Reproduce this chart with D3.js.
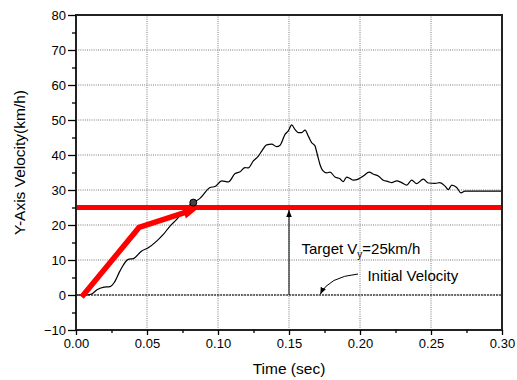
<!DOCTYPE html>
<html><head><meta charset="utf-8">
<script src="https://cdn.jsdelivr.net/npm/d3@7"></script>
<style>body{margin:0;background:#fff}text{font-family:Arial,"Liberation Sans",sans-serif;fill:#000}</style>
</head><body><svg id="c" width="517" height="380"></svg>
<script>
// measured Y-axis velocity trace
const timeVals = [0, 0.0075, 0.011, 0.0148, 0.019, 0.024, 0.0268, 0.031, 0.0368, 0.0404, 0.0463, 0.0509, 0.0568, 0.0615, 0.0662, 0.0709, 0.0756, 0.0791, 0.0826, 0.0873, 0.0944, 0.0979, 0.1026, 0.1073, 0.112, 0.1155, 0.119, 0.1213, 0.1249, 0.1284, 0.1308, 0.1343, 0.1378, 0.1413, 0.1437, 0.1472, 0.1495, 0.1519, 0.1542, 0.1565, 0.1589, 0.1613, 0.1636, 0.166, 0.1683, 0.1699, 0.1718, 0.1737, 0.1765, 0.1789, 0.1824, 0.1859, 0.1882, 0.1906, 0.193, 0.1953, 0.1988, 0.2023, 0.2065, 0.2094, 0.2129, 0.2164, 0.2199, 0.2223, 0.2258, 0.2294, 0.2329, 0.2364, 0.2399, 0.2446, 0.2481, 0.2528, 0.2563, 0.2599, 0.2622, 0.2646, 0.2681, 0.2711, 0.2739, 0.30];
const velVals = [0, 0, 0.3, 1.5, 2.2, 2.4, 3.5, 6.9, 10.2, 10.4, 12.6, 13.5, 15.4, 17.3, 19.7, 21.6, 24, 25.4, 26.4, 27.6, 30.7, 31, 32.6, 32.3, 34.7, 35.2, 36.4, 36.3, 38.3, 39.7, 41.1, 42.9, 43.1, 42.4, 42.8, 45.9, 46.9, 48.6, 47.3, 46.4, 46.4, 47.1, 45.4, 43.5, 42.6, 40.2, 37.3, 35.6, 34.9, 35.1, 33.7, 33.2, 32.4, 33.7, 33.3, 32.8, 33.1, 34, 35.1, 34.5, 34, 32.8, 32.4, 32.1, 32.6, 32.1, 31.4, 32.8, 31.8, 33.1, 32, 31.9, 32.1, 31.1, 30.1, 31.4, 30.7, 29.2, 29.7, 29.7];
const targetV = 25;
const initialV = 0;
const lineT = [0, 0.30];
const planT = [0.004, 0.0444, 0.0861];
const planV = [-0.6, 19.3, 24.8];
const markerT = [0.0826];
const markerV = [26.4];
const arrowT = 0.15;
const xTicks = [0, 0.05, 0.10, 0.15, 0.20, 0.25, 0.30];
const yTicks = [-10, 0, 10, 20, 30, 40, 50, 60, 70, 80];
const xTitle = "Time (sec)";
const yTitle = "Y-Axis Velocity(km/h)";

const W = 517, H = 380, m = {l: 76, r: 15, t: 15, b: 50};
const svg = d3.select("#c");
const x = d3.scaleLinear().domain([0, 0.30]).range([m.l, W - m.r]);
const y = d3.scaleLinear().domain([-10, 80]).range([H - m.b, m.t]);

const defs = svg.append("defs");
defs.append("marker").attr("id", "ah").attr("viewBox", "0 0 10 10").attr("refX", 10).attr("refY", 5)
  .attr("markerWidth", 7).attr("markerHeight", 7).attr("markerUnits", "userSpaceOnUse").attr("orient", "auto")
  .append("path").attr("d", "M0,1 L10,5 L0,9 Z").attr("fill", "#000");

// grid
const g = svg.append("g");
g.selectAll(".gx").data(xTicks.filter(t => t > 0 && t < 0.3)).join("line")
  .attr("x1", d => x(d)).attr("x2", d => x(d)).attr("y1", y(-10)).attr("y2", y(80))
  .attr("stroke", "#7a7a7a").attr("stroke-dasharray", "1,1.2").attr("stroke-width", 1);
g.selectAll(".gy").data(yTicks.filter(t => t > -10 && t < 80)).join("line")
  .attr("y1", d => y(d)).attr("y2", d => y(d)).attr("x1", x(0)).attr("x2", x(0.3))
  .attr("stroke", "#7a7a7a").attr("stroke-dasharray", "1,1.2").attr("stroke-width", 1);

// initial velocity line
svg.append("line").attr("x1", x(lineT[0])).attr("x2", x(lineT[1])).attr("y1", y(initialV)).attr("y2", y(initialV))
  .attr("stroke", "#000").attr("stroke-width", 1.2).attr("stroke-dasharray", "2,1");

// measured curve
const pts = timeVals.map((t, i) => [t, velVals[i]]);
svg.append("path").datum(pts)
  .attr("d", d3.line().x(d => x(d[0])).y(d => y(d[1])).curve(d3.curveMonotoneX))
  .attr("fill", "none").attr("stroke", "#000").attr("stroke-width", 1.2);

// target line
svg.append("line").attr("x1", x(lineT[0])).attr("x2", x(lineT[1])).attr("y1", y(targetV)).attr("y2", y(targetV))
  .attr("stroke", "#ff0000").attr("stroke-width", 5);

// red planned arrow
const pp = planT.map((t, i) => [x(t), y(planV[i])]);
const tip = pp[pp.length - 1], prev = pp[pp.length - 2];
const dx = tip[0] - prev[0], dy = tip[1] - prev[1], L = Math.hypot(dx, dy);
const ux = dx / L, uy = dy / L, hl = 15, hw = 6;
const base = [tip[0] - ux * hl, tip[1] - uy * hl];
const lp = pp.slice(0, -1).concat([[tip[0] - ux * (hl - 3), tip[1] - uy * (hl - 3)]]);
svg.append("path").attr("d", d3.line()(lp)).attr("fill", "none").attr("stroke", "#ff0000")
  .attr("stroke-width", 5.5).attr("stroke-linejoin", "miter");
svg.append("path").attr("d", d3.line()([tip, [base[0] - uy * hw, base[1] + ux * hw], [base[0] + uy * hw, base[1] - ux * hw]]) + "Z")
  .attr("fill", "#ff0000");

// marker
svg.selectAll(".mk").data(markerT).join("circle")
  .attr("cx", d => x(d)).attr("cy", (d, i) => y(markerV[i])).attr("r", 3.5)
  .attr("fill", "#444").attr("stroke", "#000").attr("stroke-width", 1);

// vertical arrow
svg.append("line").attr("x1", x(arrowT)).attr("x2", x(arrowT)).attr("y1", y(initialV)).attr("y2", y(targetV) + 2.5)
  .attr("stroke", "#000").attr("stroke-width", 1).attr("marker-end", "url(#ah)");

// curved arrow
svg.append("path")
  .attr("d", `M${x(0.1986)},${y(6)} Q${x(0.178)},${y(5.2)} ${x(0.172)},${y(0.2)}`)
  .attr("fill", "none").attr("stroke", "#000").attr("stroke-width", 1).attr("marker-end", "url(#ah)");

// annotations
const t1 = svg.append("text").attr("x", x(0.1588)).attr("y", y(11.6)).attr("font-size", 15);
t1.append("tspan").text("Target V");
t1.append("tspan").attr("font-size", 10).attr("dy", 4).text("y");
t1.append("tspan").attr("dy", -4).text("=25km/h");
svg.append("text").attr("x", x(0.2052)).attr("y", y(4)).attr("font-size", 15).text("Initial Velocity");

// frame
svg.append("rect").attr("x", x(0)).attr("y", y(80)).attr("width", x(0.3) - x(0)).attr("height", y(-10) - y(80))
  .attr("fill", "none").attr("stroke", "#222").attr("stroke-width", 2);

// axes
const xAxis = svg.append("g").attr("transform", `translate(0,${y(-10)})`);
xAxis.call(d3.axisBottom(x).tickValues(xTicks).tickFormat(d3.format(".2f")).tickSize(5).tickSizeOuter(0));
xAxis.selectAll(".tick").filter((d, i) => false);
const xMinor = svg.append("g").attr("transform", `translate(0,${y(-10)})`);
xMinor.call(d3.axisBottom(x).tickValues(d3.range(0.025, 0.3, 0.05)).tickFormat("").tickSize(3).tickSizeOuter(0));
const yAxis = svg.append("g").attr("transform", `translate(${x(0)},0)`);
yAxis.call(d3.axisLeft(y).tickValues(yTicks).tickSize(8).tickSizeOuter(0));
const yMinor = svg.append("g").attr("transform", `translate(${x(0)},0)`);
yMinor.call(d3.axisLeft(y).tickValues(d3.range(-5, 80, 10)).tickFormat("").tickSize(4).tickSizeOuter(0));
[xAxis, xMinor, yAxis, yMinor].forEach(a => {
  a.select(".domain").remove();
  a.selectAll(".tick line").attr("stroke", "#000").attr("stroke-width", 1.3);
  a.selectAll(".tick text").attr("font-size", 13).attr("font-family", "Arial, 'Liberation Sans', sans-serif").attr("fill", "#000");
});
xAxis.selectAll(".tick text").attr("dy", "0.71em").attr("y", 9);
yAxis.selectAll(".tick text").attr("x", -10);

// titles
svg.append("text").attr("x", (x(0) + x(0.3)) / 2).attr("y", 374).attr("text-anchor", "middle").attr("font-size", 15.5).text(xTitle);
svg.append("text").attr("transform", `translate(25,${(y(80) + y(-10)) / 2 - 10}) rotate(-90)`)
  .attr("text-anchor", "middle").attr("font-size", 15.5).text(yTitle);
</script></body></html>
